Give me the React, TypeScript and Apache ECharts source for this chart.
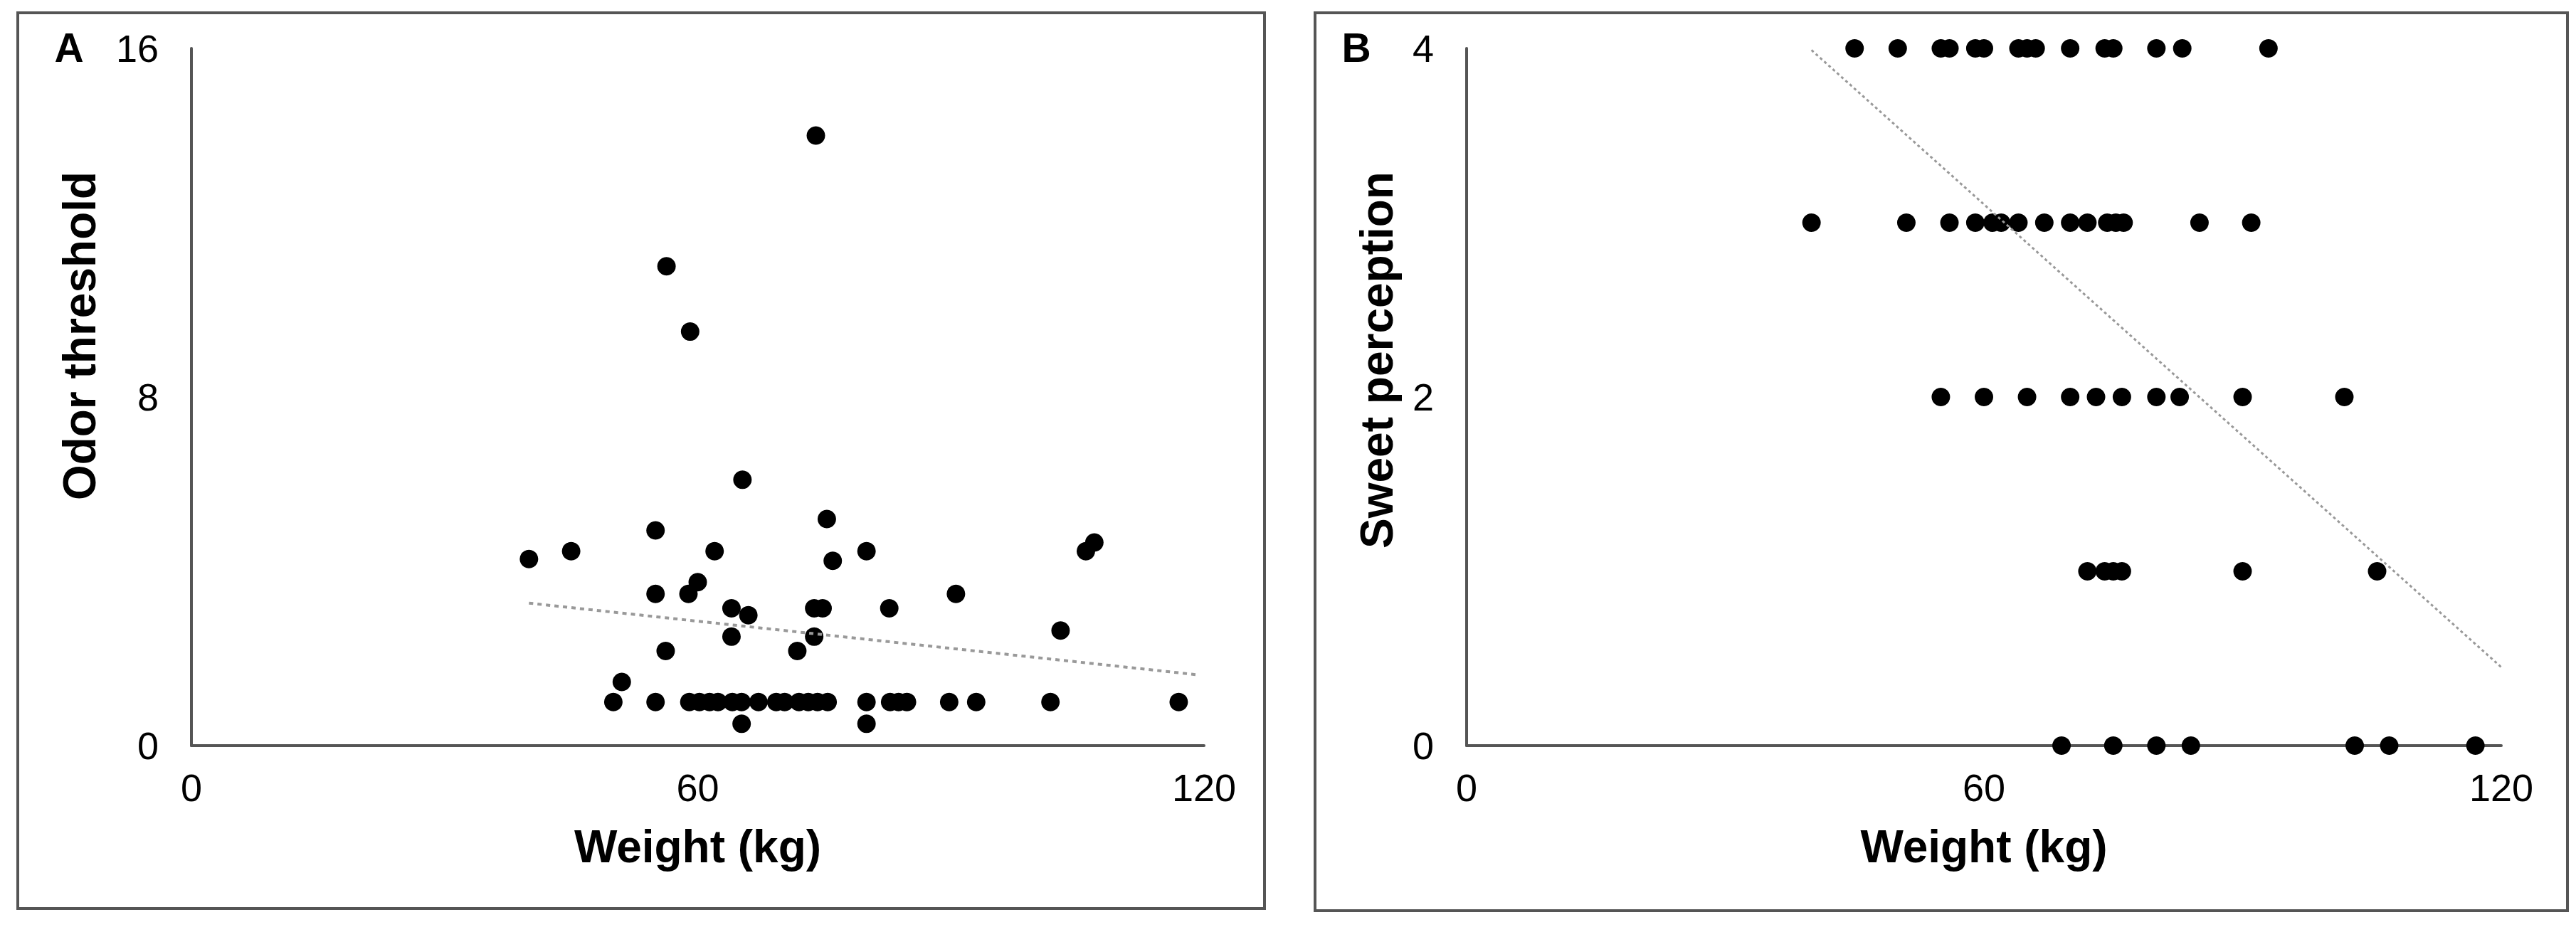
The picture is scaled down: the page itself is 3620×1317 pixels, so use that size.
import { useEffect, useRef } from "react";
import * as echarts from "echarts";

// ---- Panel A: Odor threshold vs weight ----
const odorPoints: [number, number][] = [
  [40, 4.28], [45, 4.46], [55, 4.94], [56.3, 11], [59.1, 9.5], [65.3, 6.1],
  [74, 14], [75.3, 5.2], [62, 4.46], [76, 4.24], [80, 4.46], [106, 4.46],
  [107, 4.66], [60, 3.75], [55, 3.48], [58.9, 3.48], [90.6, 3.48], [64, 3.15],
  [66, 2.99], [73.8, 3.15], [74.8, 3.15], [82.7, 3.15], [103, 2.64], [64, 2.5],
  [73.8, 2.5], [71.8, 2.17], [56.2, 2.17], [51, 1.46], [65.2, 0.5], [80, 0.5],
];
const odorAtOne = [
  50, 55, 59, 60.2, 61.4, 62.4, 64.1, 65.2, 67.2, 69.3, 70.3, 72, 73.1, 74.2,
  75.4, 80, 82.8, 83.8, 84.8, 89.8, 93, 101.8, 117,
];
const odorTrend: [number, number][] = [[40, 3.27], [119, 1.63]];

// ---- Panel B: Sweet perception vs weight ----
const sweet4 = [45, 50, 55, 56, 59, 60, 64, 65, 66, 70, 74, 75, 80, 83, 93];
const sweet3 = [40, 51, 56, 59, 61, 62, 64, 67, 70, 72, 74.3, 75.3, 76.2, 85, 91];
const sweet2 = [55, 60, 65, 70, 73, 76, 80, 82.7, 90, 101.8];
const sweet1 = [72, 74, 75, 76, 90, 105.6];
const sweet0 = [69, 75, 80, 84, 103, 107, 117];
const sweetTrend: [number, number][] = [[40, 3.99], [120, 0.45]];

// ---- Axes ----
const weightTicks = { min: 0, max: 120, interval: 60 };
const odorTicks = { min: 0, max: 16, interval: 8 };
const sweetTicks = { min: 0, max: 4, interval: 2 };

const FONT = "'Liberation Sans', Arial, sans-serif";

export default function App() {
  const ref = useRef<HTMLDivElement>(null);
  useEffect(() => {
    if (!ref.current) return;
    const chart = echarts.init(ref.current, undefined, { renderer: "svg" });

    const odorData = [
      ...odorPoints,
      ...odorAtOne.map((w) => [w, 1] as [number, number]),
    ];
    const sweetData: [number, number][] = [
      ...sweet4.map((w) => [w, 4] as [number, number]),
      ...sweet3.map((w) => [w, 3] as [number, number]),
      ...sweet2.map((w) => [w, 2] as [number, number]),
      ...sweet1.map((w) => [w, 1] as [number, number]),
      ...sweet0.map((w) => [w, 0] as [number, number]),
    ];

    const axisLine = { show: true, lineStyle: { color: "#555", width: 4 } };
    const xAxisBase = (gridIndex: number) => ({
      type: "value",
      gridIndex,
      ...weightTicks,
      axisLine,
      axisTick: { show: false },
      splitLine: { show: false },
      axisLabel: {
        color: "#000",
        fontSize: 54,
        fontFamily: FONT,
        margin: 32,
        showMinLabel: true,
        showMaxLabel: true,
      },
      name: "Weight (kg)",
      nameLocation: "middle",
      nameGap: 110,
      nameTextStyle: {
        color: "#000",
        fontSize: 64,
        fontWeight: "bold",
        fontFamily: FONT,
      },
    });
    const yAxisBase = (gridIndex: number, ticks: any) => ({
      type: "value",
      gridIndex,
      ...ticks,
      axisLine,
      axisTick: { show: false },
      splitLine: { show: false },
      axisLabel: {
        color: "#000",
        fontSize: 54,
        fontFamily: FONT,
        margin: 46,
        showMinLabel: true,
        showMaxLabel: true,
      },
    });

    const dotStyle = { color: "#000", opacity: 1 };

    chart.setOption({
      animation: false,
      backgroundColor: "#fff",
      grid: [
        { left: 269, top: 68, width: 1423, height: 980 },
        { left: 2061, top: 68, width: 1454, height: 980 },
      ],
      xAxis: [xAxisBase(0), xAxisBase(1)],
      yAxis: [yAxisBase(0, odorTicks), yAxisBase(1, sweetTicks)],
      series: [
        {
          type: "scatter",
          xAxisIndex: 0,
          yAxisIndex: 0,
          data: odorData,
          symbol: "circle",
          symbolSize: 26,
          itemStyle: dotStyle,
        },
        {
          type: "line",
          xAxisIndex: 0,
          yAxisIndex: 0,
          data: odorTrend,
          symbol: "none",
          lineStyle: { color: "#999", width: 4, type: [6, 6] },
        },
        {
          type: "scatter",
          xAxisIndex: 1,
          yAxisIndex: 1,
          data: sweetData,
          symbol: "circle",
          symbolSize: 26,
          itemStyle: dotStyle,
        },
        {
          type: "line",
          xAxisIndex: 1,
          yAxisIndex: 1,
          data: sweetTrend,
          symbol: "none",
          lineStyle: { color: "#999", width: 3, type: [4, 4] },
        },
      ],
      graphic: [
        {
          type: "rect",
          shape: { x: 25, y: 18, width: 1752, height: 1259 },
          style: { fill: "none", stroke: "#555", lineWidth: 4 },
        },
        {
          type: "rect",
          shape: { x: 1848, y: 18, width: 1760, height: 1262 },
          style: { fill: "none", stroke: "#555", lineWidth: 4 },
        },
        {
          type: "text",
          x: 97,
          y: 67,
          style: {
            text: "A",
            fill: "#000",
            font: `bold 57px ${FONT}`,
            align: "center",
            verticalAlign: "middle",
          },
        },
        {
          type: "text",
          x: 1906,
          y: 67,
          style: {
            text: "B",
            fill: "#000",
            font: `bold 57px ${FONT}`,
            align: "center",
            verticalAlign: "middle",
          },
        },
        {
          type: "text",
          x: 112,
          y: 472,
          rotation: Math.PI / 2,
          style: {
            text: "Odor threshold",
            fill: "#000",
            font: `bold 64px ${FONT}`,
            align: "center",
            verticalAlign: "middle",
          },
        },
        {
          type: "text",
          x: 1935,
          y: 506,
          rotation: Math.PI / 2,
          style: {
            text: "Sweet perception",
            fill: "#000",
            font: `bold 64px ${FONT}`,
            align: "center",
            verticalAlign: "middle",
          },
        },
      ],
    });
    return () => chart.dispose();
  }, []);

  return (
    <div
      ref={ref}
      style={{
        position: "fixed",
        left: 0,
        top: 0,
        width: 3620,
        height: 1317,
        background: "#fff",
      }}
    />
  );
}
